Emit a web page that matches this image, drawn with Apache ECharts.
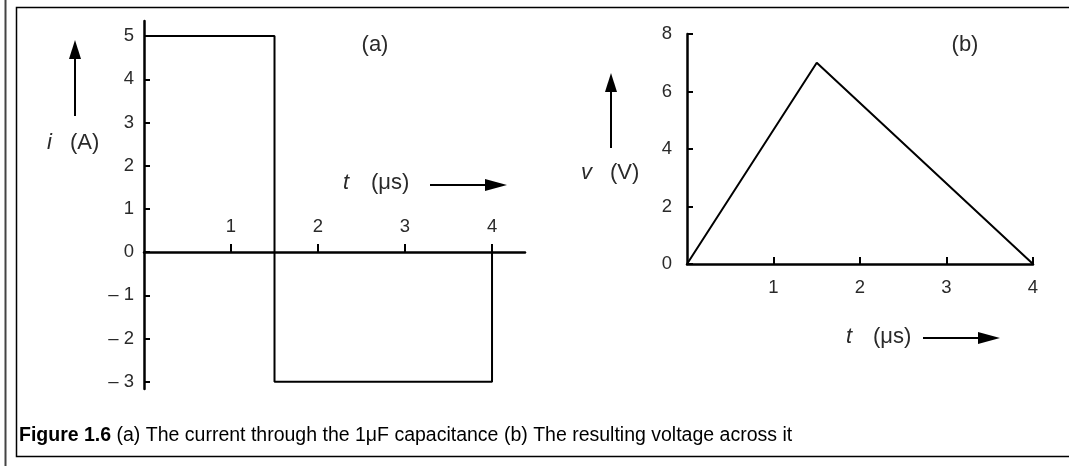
<!DOCTYPE html>
<html>
<head>
<meta charset="utf-8">
<script src="https://cdn.jsdelivr.net/npm/echarts@6/dist/echarts.min.js"></script>
<style>
html,body{margin:0;padding:0;background:#fff;}
#c{width:1069px;height:469px;}
</style>
</head>
<body>
<div id="c"></div>
<script>
// ---- data ----
var tCurrent = [0, 1.5, 1.5, 4, 4];
var iCurrent = [5, 5, -3, -3, 0];
var tVoltage = [0, 1.5, 4];
var vVoltage = [0, 7, 0];
var xTicksA = [1, 2, 3, 4];
var yTicksA = [-3, -2, -1, 0, 1, 2, 3, 4, 5];
var xTicksB = [1, 2, 3, 4];
var yTicksB = [0, 2, 4, 6, 8];
var captionBold = 'Figure 1.6';
var captionText = ' (a) The current through the 1\u03bcF capacitance (b) The resulting voltage across it';

function pairs(xs, ys) { return xs.map(function (x, k) { return [x, ys[k]]; }); }

var FONT = 'Liberation Sans, Arial, sans-serif';
var labelStyle = { color: '#2a2a2a', fontFamily: FONT, fontSize: 18.5 };
var ANN = 22;

var chart = echarts.init(document.getElementById('c'), null, { renderer: 'canvas' });

function arrowUp(x, yTop, yBottom) {
  return [
    { type: 'line', shape: { x1: x, y1: yTop + 16, x2: x, y2: yBottom }, style: { stroke: '#000', lineWidth: 2 } },
    { type: 'polygon', shape: { points: [[x, yTop], [x - 6, yTop + 19], [x + 6, yTop + 19]] }, style: { fill: '#000' } }
  ];
}
function arrowRight(xLeft, xRight, y) {
  return [
    { type: 'line', shape: { x1: xLeft, y1: y, x2: xRight - 16, y2: y }, style: { stroke: '#000', lineWidth: 2 } },
    { type: 'polygon', shape: { points: [[xRight, y], [xRight - 22, y - 6], [xRight - 22, y + 6]] }, style: { fill: '#000' } }
  ];
}
function txt(x, y, s, opts) {
  opts = opts || {};
  return { type: 'text', x: x, y: y, style: {
    text: s, fill: '#2a2a2a', font: (opts.italic ? 'italic ' : '') + (opts.size || ANN) + 'px ' + FONT,
    textAlign: opts.align || 'left', textVerticalAlign: 'middle' } };
}

var graphics = [
  // outer frame
  { type: 'line', shape: { x1: 5.5, y1: 0, x2: 5.5, y2: 466 }, style: { stroke: '#444', lineWidth: 2 } },
  { type: 'polyline', shape: { points: [[1069, 7.5], [16.5, 7.5], [16.5, 456.5], [1069, 456.5]] }, style: { stroke: '#000', lineWidth: 1.5, fill: null } },
  // caption
  { type: 'text', x: 19, y: 436, style: {
      text: '{b|' + captionBold + '}{n|' + captionText + '}',
      textVerticalAlign: 'middle',
      rich: {
        b: { fontFamily: FONT, fontSize: 19.5, fontWeight: 'bold', fill: '#000' },
        n: { fontFamily: FONT, fontSize: 19.5, fill: '#000' }
      } } },
  // panel (a) annotations
  txt(375, 45, '(a)', { align: 'center' }),
  txt(47, 143, 'i', { italic: true }),
  txt(70, 143, '(A)'),
  txt(343, 183, 't', { italic: true }),
  txt(371, 183, '(\u03bcs)'),
  // panel (b) annotations
  txt(965, 45, '(b)', { align: 'center' }),
  txt(581, 173, 'v', { italic: true }),
  txt(610, 173, '(V)'),
  txt(846, 337, 't', { italic: true }),
  txt(873, 337, '(\u03bcs)')
].concat(arrowUp(75, 40, 116), arrowRight(430, 507, 185), arrowUp(611, 73, 148), arrowRight(923, 1000, 338));

var option = {
  animation: false,
  backgroundColor: '#fff',
  grid: [
    { left: 144, top: 21, width: 381, height: 368 },
    { left: 687, top: 34, width: 346, height: 230 },
    // helper grid: upper half of panel (a), used only to place the time labels above the zero line
    { left: 144, top: 21, width: 381, height: 231 }
  ],
  xAxis: [
    { type: 'value', gridIndex: 0, min: 0, max: 4.379,
      axisLine: { onZero: true, lineStyle: { color: '#000', width: 2.5 } },
      axisTick: { inside: true, length: 8, customValues: xTicksA, lineStyle: { color: '#000', width: 2 } },
      axisLabel: { show: false },
      splitLine: { show: false } },
    { type: 'value', gridIndex: 1, min: 0, max: 4,
      axisLine: { onZero: true, lineStyle: { color: '#000', width: 2.5 } },
      axisTick: { inside: true, length: 7, customValues: xTicksB, lineStyle: { color: '#000', width: 2 } },
      axisLabel: Object.assign({ margin: 14, customValues: xTicksB }, labelStyle),
      splitLine: { show: false } },
    { type: 'value', gridIndex: 2, min: 0, max: 4.379,
      axisLine: { show: false, onZero: false },
      axisTick: { show: false },
      axisLabel: Object.assign({ inside: true, margin: 16, customValues: xTicksA }, labelStyle),
      splitLine: { show: false } }
  ],
  yAxis: [
    { type: 'value', gridIndex: 0, min: -3.17, max: 5.35,
      axisLine: { show: true, onZero: true, lineStyle: { color: '#000', width: 2.5 } },
      axisTick: { show: true, inside: true, length: 6, customValues: yTicksA, lineStyle: { color: '#000', width: 2 } },
      axisLabel: Object.assign({ margin: 10, customValues: yTicksA,
        formatter: function (v) { return v < 0 ? '\u2013 ' + Math.abs(v) : String(v); } }, labelStyle),
      splitLine: { show: false } },
    { type: 'value', gridIndex: 1, min: 0, max: 8,
      axisLine: { show: true, onZero: true, lineStyle: { color: '#000', width: 2.5 } },
      axisTick: { show: true, inside: true, length: 6, customValues: yTicksB, lineStyle: { color: '#000', width: 2 } },
      axisLabel: Object.assign({ margin: 15, customValues: yTicksB }, labelStyle),
      splitLine: { show: false } },
    { type: 'value', gridIndex: 2, min: 0, max: 1, show: false }
  ],
  series: [
    { type: 'line', xAxisIndex: 0, yAxisIndex: 0, data: pairs(tCurrent, iCurrent),
      symbol: 'none', lineStyle: { color: '#000', width: 2 } },
    { type: 'line', xAxisIndex: 1, yAxisIndex: 1, data: pairs(tVoltage, vVoltage),
      symbol: 'none', lineStyle: { color: '#000', width: 2 } }
  ],
  graphic: graphics
};
chart.setOption(option);
</script>
</body>
</html>
